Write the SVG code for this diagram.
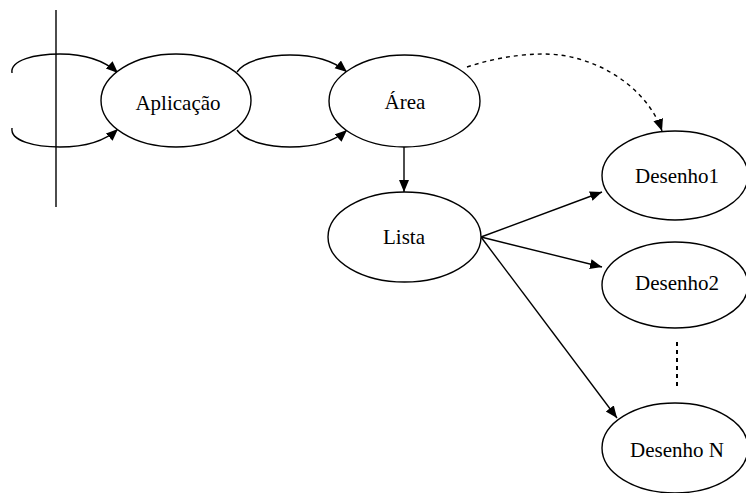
<svg xmlns="http://www.w3.org/2000/svg" width="746" height="493" viewBox="0 0 746 493">
<defs>
<marker id="ah" markerUnits="userSpaceOnUse" markerWidth="13" markerHeight="11" refX="12" refY="5" orient="auto">
<path d="M0,0 L12,5 L0,10 z" fill="#000"/>
</marker>
<style>
.n ellipse{fill:#fff;stroke:#000;stroke-width:1.4}
.n text{font-family:'Liberation Serif','DejaVu Serif',serif;font-size:21px;fill:#000;text-anchor:middle}
.c path,.c line{fill:none;stroke:#000;stroke-width:1.4}
.d{stroke-dasharray:4 4}
</style>
</defs>
<rect width="746" height="493" fill="#fff"/>
<g class="c" id="connectors">
<line x1="56" y1="10" x2="56" y2="207"/>
<path d="M12,73 C10,60 35,54 60,54 C85,54 105,61 118,73" marker-end="url(#ah)"/>
<path d="M12,128 C10,141 35,147 60,147 C85,147 105,141 118,129" marker-end="url(#ah)"/>
<path d="M237,72 C245,60 270,55 290,55 C315,55 335,62 347,72" marker-end="url(#ah)"/>
<path d="M237,130 C245,142 270,147 290,147 C315,147 335,141 347,130" marker-end="url(#ah)"/>
<path class="d" d="M467,67 C500,56 535,52 560,55 C610,62 650,95 662,131" marker-end="url(#ah)"/>
<line x1="404" y1="147" x2="404" y2="192" marker-end="url(#ah)"/>
<line x1="481" y1="237" x2="602" y2="192" marker-end="url(#ah)"/>
<line x1="481" y1="237" x2="602" y2="267" marker-end="url(#ah)"/>
<line x1="481" y1="237" x2="617" y2="418" marker-end="url(#ah)"/>
<line class="d" x1="677" y1="342" x2="677" y2="388" style="stroke-width:2"/>
</g>
<g class="n" id="aplicacao"><ellipse cx="176" cy="100.5" rx="75" ry="46.5"/><text x="178" y="110">Aplicação</text></g>
<g class="n" id="area"><ellipse cx="404.5" cy="101" rx="75.5" ry="46"/><text x="405" y="109">Área</text></g>
<g class="n" id="lista"><ellipse cx="404.5" cy="237" rx="76.5" ry="45"/><text x="404" y="244">Lista</text></g>
<g class="n" id="desenho1"><ellipse cx="675" cy="175.5" rx="73" ry="44.5"/><text x="677" y="183">Desenho1</text></g>
<g class="n" id="desenho2"><ellipse cx="675" cy="285" rx="73" ry="43"/><text x="677" y="290">Desenho2</text></g>
<g class="n" id="desenhoN"><ellipse cx="675" cy="448" rx="73" ry="45"/><text x="677" y="457">Desenho N</text></g>
</svg>
